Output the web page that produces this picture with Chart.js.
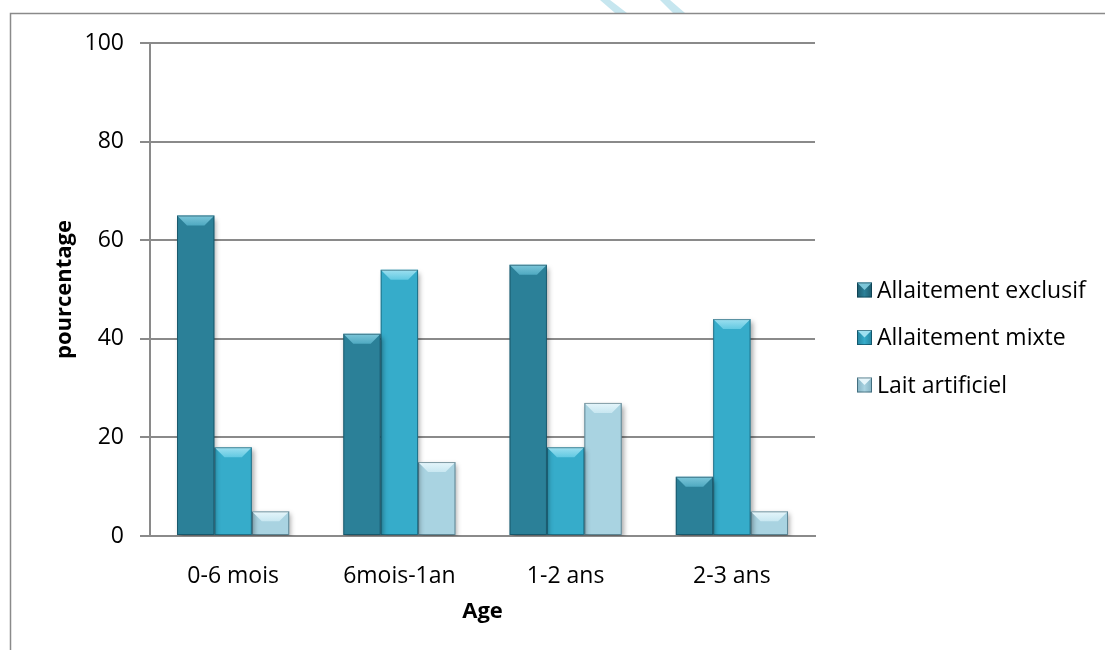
<!DOCTYPE html>
<html>
<head>
<meta charset="utf-8">
<script src="https://cdn.jsdelivr.net/npm/chart.js@4.4.1/dist/chart.umd.min.js"></script>
<style>
  html, body { margin: 0; padding: 0; background: #fff; }
  #wrap { width: 1105px; height: 650px; position: relative; }
</style>
</head>
<body>
<div id="wrap"><canvas id="c" width="1105" height="650"></canvas></div>
<script>
// Feeding mode by age group (percent)
const categories = ['0-6 mois', '6mois-1an', '1-2 ans', '2-3 ans'];
const exclusif = [65, 41, 55, 12];
const mixte = [18, 54, 18, 44];
const artificiel = [5, 15, 27, 5];
const seriesNames = ['Allaitement exclusif', 'Allaitement mixte', 'Lait artificiel'];
const yTicks = [0, 20, 40, 60, 80, 100];

const FONT = '"Open Sans", "Liberation Sans", sans-serif';

// base, light and dark tones for each series
const palette = [
  { mid: '#2b8098', edge: '#1d5b6d', top: '#4fa9c1', topHi: '#7cc6d9' },
  { mid: '#36acca', edge: '#2585a0', top: '#62c9e2', topHi: '#9ee0f0' },
  { mid: '#a9d3e1', edge: '#84b3c4', top: '#c8e7f1', topHi: '#e6f6fb' }
];

function barGradient(ctx, i) {
  const el = ctx.element;
  const chart = ctx.chart;
  if (!el || el.x === undefined || !chart.chartArea) return palette[i].mid;
  const w = el.width || 36;
  const g = chart.ctx.createLinearGradient(el.x - w / 2, 0, el.x + w / 2, 0);
  g.addColorStop(0, palette[i].edge);
  g.addColorStop(0.12, palette[i].mid);
  g.addColorStop(0.85, palette[i].mid);
  g.addColorStop(1, palette[i].edge);
  return g;
}

// soft drop shadow under the bars
const shadowPlugin = {
  id: 'barShadow',
  beforeDatasetsDraw(chart) {
    const c = chart.ctx;
    c.save();
    c.shadowColor = 'rgba(0,0,0,0.35)';
    c.shadowBlur = 5;
    c.shadowOffsetX = 2;
    c.shadowOffsetY = 3;
  },
  afterDatasetsDraw(chart) {
    chart.ctx.restore();
  }
};

// bevelled cap and side edges on each bar
const bevelPlugin = {
  id: 'bevel',
  afterDatasetsDraw(chart) {
    const c = chart.ctx;
    chart.data.datasets.forEach((ds, di) => {
      const meta = chart.getDatasetMeta(di);
      const p = palette[di];
      meta.data.forEach(bar => {
        const w = bar.width, left = bar.x - w / 2, right = bar.x + w / 2;
        const top = bar.y, base = bar.base;
        const h = base - top;
        const bev = Math.min(10, h / 2);
        c.save();
        const g = c.createLinearGradient(0, top, 0, top + bev);
        g.addColorStop(0, p.topHi);
        g.addColorStop(1, p.top);
        c.fillStyle = g;
        c.beginPath();
        c.moveTo(left, top);
        c.lineTo(right, top);
        c.lineTo(right - bev, top + bev);
        c.lineTo(left + bev, top + bev);
        c.closePath();
        c.fill();
        c.strokeStyle = 'rgba(0,40,55,0.45)';
        c.lineWidth = 1;
        c.strokeRect(left + 0.5, top + 0.5, w - 1, h - 1);
        c.restore();
      });
    });
  }
};

// legend at the right with small bevelled squares
const legendPlugin = {
  id: 'sideLegend',
  afterDraw(chart) {
    const c = chart.ctx;
    const a = chart.chartArea;
    const x0 = a.right + 42;
    const yMid = (a.top + a.bottom) / 2 + 48;
    c.save();
    c.font = '23px ' + FONT;
    c.textBaseline = 'middle';
    c.fillStyle = '#000';
    seriesNames.forEach((name, i) => {
      const y = yMid + (i - 1) * 47.5;
      const s = 15;
      const bx = x0, by = y - s / 2;
      const p = palette[i];
      const g = c.createLinearGradient(bx, 0, bx + s, 0);
      g.addColorStop(0, p.edge);
      g.addColorStop(0.5, p.mid);
      g.addColorStop(1, p.edge);
      c.fillStyle = g;
      c.fillRect(bx, by, s, s);
      c.fillStyle = p.topHi;
      c.beginPath();
      c.moveTo(bx, by); c.lineTo(bx + s, by); c.lineTo(bx + s / 2, by + s / 2); c.closePath();
      c.fill();
      c.strokeStyle = 'rgba(0,40,55,0.5)';
      c.lineWidth = 1;
      c.strokeRect(bx + 0.5, by + 0.5, s - 1, s - 1);
      c.fillStyle = '#000';
      c.fillText(name, bx + s + 5, y + 1);
    });
    c.restore();
  }
};

// outer frame and the two pale stripes crossing its top edge
const framePlugin = {
  id: 'frame',
  beforeDraw(chart) {
    const c = chart.ctx;
    c.save();
    c.fillStyle = '#c6e6ef';
    [[600, 615], [660, 673]].forEach(([xt, xb]) => {
      c.beginPath();
      c.moveTo(xt, 0); c.lineTo(xt + 10, 0);
      c.lineTo(xb + 12, 13); c.lineTo(xb, 13);
      c.closePath();
      c.fill();
    });
    c.strokeStyle = '#8a8a8a';
    c.lineWidth = 1.5;
    c.beginPath();
    c.moveTo(10.5, 650);
    c.lineTo(10.5, 13.5);
    c.lineTo(1105, 13.5);
    c.stroke();
    c.restore();
  }
};

new Chart(document.getElementById('c'), {
  type: 'bar',
  data: {
    labels: categories,
    datasets: [exclusif, mixte, artificiel].map((vals, i) => ({
      label: seriesNames[i],
      data: vals,
      backgroundColor: ctx => barGradient(ctx, i),
      borderWidth: 0,
      categoryPercentage: 0.675,
      barPercentage: 1.0
    }))
  },
  options: {
    responsive: false,
    animation: false,
    devicePixelRatio: 1,
    layout: { padding: { left: 0, top: 43, right: 290, bottom: 0 } },
    plugins: {
      legend: { display: false },
      tooltip: { enabled: false }
    },
    scales: {
      x: {
        grid: { display: false },
        border: { display: true, color: '#8a8a8a', width: 2 },
        ticks: { color: '#000', font: { family: FONT, size: 23 }, padding: 19 },
        title: { display: true, text: 'Age', color: '#000', font: { family: FONT, size: 22, weight: 'bold' }, padding: { top: 8, bottom: 25 } },
        afterFit(scale) { scale.height = 114; }
      },
      y: {
        min: 0,
        max: 100,
        afterBuildTicks(scale) { scale.ticks = yTicks.map(v => ({ value: v })); },
        grid: { color: '#8a8a8a', lineWidth: 2, tickLength: 10, drawTicks: true },
        border: { display: true, color: '#8a8a8a', width: 2 },
        ticks: { color: '#000', font: { family: FONT, size: 23 }, padding: 16 },
        title: { display: true, text: 'pourcentage', color: '#000', font: { family: FONT, size: 22, weight: 'bold' }, padding: { top: 52, bottom: 0 } },
        afterFit(scale) { scale.width = 150; }
      }
    }
  },
  plugins: [framePlugin, shadowPlugin, bevelPlugin, legendPlugin]
});
</script>
</body>
</html>
